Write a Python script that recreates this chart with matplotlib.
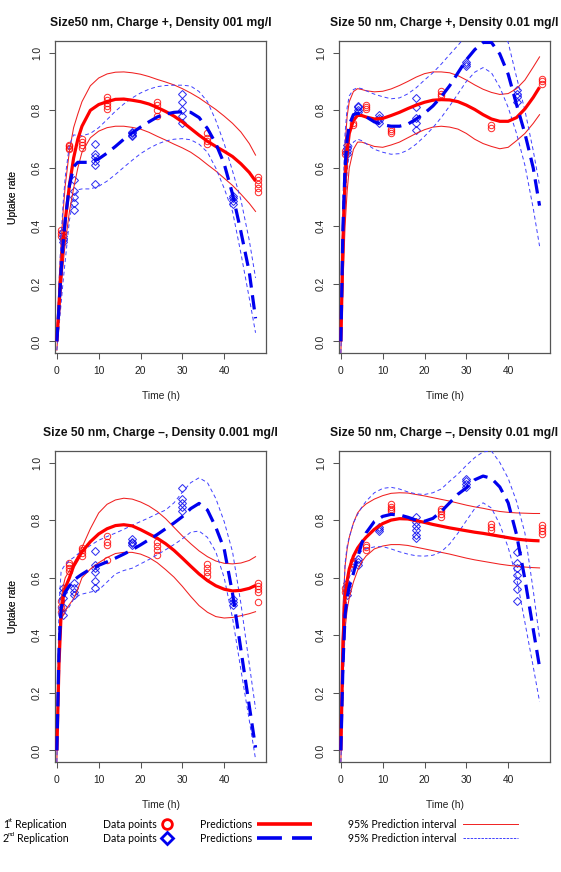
import matplotlib
matplotlib.use("Agg")
import matplotlib.pyplot as plt
from matplotlib.lines import Line2D

# ---------------- data ----------------
T_PRED = [0, 0.5, 1, 1.5, 2, 3, 4, 5, 6, 8, 10, 12, 14, 16, 18, 20, 22, 24, 26, 28,
          30, 32, 34, 36, 38, 40, 42, 44, 46, 47.5]

R1_T = [1, 3, 6, 12, 24, 36, 48]        # 1st replication times
R2_T = [1.5, 4, 9, 18, 30, 42]          # 2nd replication times

TITLES = ["Size50 nm, Charge +, Density 001 mg/l",
          "Size 50 nm, Charge +, Density 0.01 mg/l",
          "Size 50 nm, Charge \u2013, Density 0.001 mg/l",
          "Size 50 nm, Charge \u2013, Density 0.01 mg/l"]

# Panel 1
P1_RED_PRED = [0, 0.12, 0.24, 0.34, 0.42, 0.54, 0.635, 0.70, 0.745, 0.80, 0.82, 0.83, 0.838, 0.839, 0.835,
               0.83, 0.822, 0.81, 0.796, 0.78, 0.76, 0.737, 0.714, 0.693, 0.675, 0.658, 0.64, 0.615, 0.585, 0.555]
P1_RED_UP = [0.03, 0.2, 0.34, 0.45, 0.54, 0.66, 0.74, 0.787, 0.83, 0.885, 0.912, 0.926, 0.932, 0.933, 0.93,
             0.925, 0.917, 0.907, 0.898, 0.888, 0.875, 0.86, 0.843, 0.823, 0.803, 0.78, 0.755, 0.725, 0.685, 0.645]
P1_RED_LO = [-0.03, 0.08, 0.18, 0.27, 0.34, 0.45, 0.53, 0.6, 0.655, 0.705, 0.728, 0.74, 0.745, 0.745, 0.741,
             0.735, 0.724, 0.71, 0.697, 0.683, 0.67, 0.655, 0.635, 0.612, 0.59, 0.565, 0.54, 0.51, 0.478, 0.45]
P1_BLUE_PRED = [0, 0.12, 0.24, 0.34, 0.42, 0.54, 0.605, 0.62, 0.62, 0.62, 0.632, 0.652, 0.675, 0.70, 0.722,
                0.742, 0.76, 0.777, 0.787, 0.793, 0.795, 0.793, 0.775, 0.737, 0.685, 0.615, 0.51, 0.38, 0.24, 0.08]
P1_BLUE_UP = [0.03, 0.2, 0.36, 0.48, 0.57, 0.68, 0.715, 0.713, 0.712, 0.72, 0.74, 0.768, 0.797, 0.822, 0.843,
              0.86, 0.873, 0.882, 0.886, 0.887, 0.887, 0.884, 0.865, 0.83, 0.765, 0.685, 0.59, 0.49, 0.35, 0.22]
P1_BLUE_LO = [-0.03, 0.05, 0.13, 0.21, 0.28, 0.42, 0.5, 0.525, 0.528, 0.528, 0.537, 0.555, 0.578, 0.603, 0.627,
              0.65, 0.668, 0.683, 0.694, 0.70, 0.702, 0.698, 0.683, 0.655, 0.6, 0.53, 0.45, 0.305, 0.15, 0.03]
P1_R1_Y = [[0.365, 0.375, 0.385], [0.665, 0.67, 0.675, 0.68], [0.67, 0.68, 0.69, 0.70],
           [0.805, 0.815, 0.825, 0.835, 0.845], [0.78, 0.80, 0.82, 0.83], [0.684, 0.695, 0.705, 0.72],
           [0.517, 0.53, 0.545, 0.56, 0.568]]
P1_R2_Y = [[0.345, 0.355, 0.365, 0.38], [0.455, 0.48, 0.50, 0.52, 0.56], [0.546, 0.61, 0.625, 0.64, 0.65, 0.684],
           [0.712, 0.716, 0.72, 0.724], [0.755, 0.78, 0.80, 0.83, 0.855], [0.475, 0.485, 0.495, 0.505]]

# Panel 2
P2_RED_PRED = [0, 0.35, 0.55, 0.66, 0.72, 0.765, 0.783, 0.782, 0.777, 0.77, 0.772, 0.782, 0.793, 0.806, 0.818,
               0.828, 0.835, 0.837, 0.836, 0.83, 0.818, 0.803, 0.785, 0.77, 0.762, 0.762, 0.775, 0.805, 0.845, 0.88]
P2_RED_UP = [0.05, 0.45, 0.68, 0.78, 0.83, 0.865, 0.875, 0.872, 0.868, 0.864, 0.866, 0.874, 0.886, 0.9, 0.915,
             0.927, 0.933, 0.933, 0.93, 0.92, 0.905, 0.888, 0.873, 0.862, 0.855, 0.858, 0.875, 0.905, 0.95, 0.985]
P2_RED_LO = [-0.04, 0.2, 0.4, 0.52, 0.6, 0.665, 0.69, 0.69, 0.685, 0.675, 0.672, 0.68, 0.69, 0.705, 0.72,
             0.733, 0.742, 0.745, 0.742, 0.735, 0.72, 0.7, 0.685, 0.675, 0.667, 0.672, 0.695, 0.72, 0.755, 0.785]
P2_BLUE_PRED = [0, 0.4, 0.6, 0.7, 0.75, 0.785, 0.79, 0.785, 0.778, 0.76, 0.75, 0.745, 0.745, 0.752, 0.77,
                0.79, 0.815, 0.847, 0.885, 0.93, 0.975, 1.01, 1.035, 1.035, 0.995, 0.925, 0.82, 0.72, 0.60, 0.47]
P2_BLUE_UP = [0.05, 0.5, 0.72, 0.81, 0.85, 0.872, 0.878, 0.875, 0.868, 0.856, 0.847, 0.84, 0.843, 0.857, 0.878,
              0.905, 0.93, 0.96, 0.993, 1.025, 1.06, 1.09, 1.11, 1.11, 1.08, 1.035, 0.915, 0.8, 0.66, 0.54]
P2_BLUE_LO = [-0.04, 0.3, 0.48, 0.59, 0.65, 0.69, 0.7, 0.695, 0.685, 0.665, 0.655, 0.648, 0.65, 0.662, 0.683,
              0.71, 0.74, 0.775, 0.815, 0.857, 0.9, 0.932, 0.948, 0.93, 0.88, 0.81, 0.72, 0.61, 0.46, 0.33]
P2_R1_Y = [[0.65, 0.66], [0.75, 0.755], [0.805, 0.812, 0.82], [0.72, 0.728, 0.736], [0.85, 0.858, 0.866],
           [0.74, 0.75], [0.89, 0.90, 0.91]]
P2_R2_Y = [[0.65, 0.66, 0.67, 0.68], [0.795, 0.80, 0.81, 0.816], [0.755, 0.765, 0.775, 0.785],
           [0.733, 0.755, 0.775, 0.81, 0.842], [0.952, 0.96, 0.968], [0.83, 0.845, 0.855, 0.87]]

# Panel 3
P3_RED_PRED = [0, 0.3, 0.47, 0.53, 0.565, 0.6, 0.64, 0.665, 0.69, 0.725, 0.752, 0.77, 0.781, 0.784, 0.78,
               0.767, 0.752, 0.737, 0.718, 0.695, 0.668, 0.64, 0.613, 0.59, 0.572, 0.56, 0.554, 0.556, 0.563, 0.573]
P3_RED_UP = [0.04, 0.38, 0.52, 0.57, 0.6, 0.625, 0.65, 0.675, 0.705, 0.77, 0.825, 0.855, 0.87, 0.876, 0.873,
             0.863, 0.849, 0.83, 0.805, 0.775, 0.745, 0.718, 0.693, 0.673, 0.658, 0.65, 0.648, 0.651, 0.66, 0.673]
P3_RED_LO = [-0.04, 0.3, 0.45, 0.47, 0.485, 0.507, 0.527, 0.56, 0.6, 0.63, 0.652, 0.67, 0.684, 0.688, 0.688,
             0.682, 0.67, 0.652, 0.628, 0.602, 0.57, 0.535, 0.503, 0.48, 0.465, 0.46, 0.462, 0.468, 0.475, 0.482]
P3_BLUE_PRED = [0, 0.35, 0.49, 0.53, 0.55, 0.572, 0.59, 0.602, 0.612, 0.63, 0.643, 0.655, 0.668, 0.682, 0.697,
                0.714, 0.732, 0.75, 0.77, 0.79, 0.812, 0.84, 0.858, 0.835, 0.775, 0.7, 0.545, 0.35, 0.155, 0.01]
P3_BLUE_UP = [0.04, 0.5, 0.62, 0.635, 0.645, 0.66, 0.67, 0.682, 0.692, 0.712, 0.73, 0.743, 0.755, 0.768, 0.782,
              0.795, 0.808, 0.822, 0.835, 0.86, 0.897, 0.93, 0.947, 0.93, 0.875, 0.795, 0.69, 0.51, 0.30, 0.145]
P3_BLUE_LO = [-0.04, 0.35, 0.455, 0.47, 0.48, 0.5, 0.525, 0.537, 0.543, 0.55, 0.557, 0.585, 0.613, 0.625, 0.633,
              0.648, 0.663, 0.68, 0.697, 0.715, 0.735, 0.758, 0.762, 0.74, 0.69, 0.6, 0.46, 0.28, 0.105, -0.03]
P3_R1_Y = [[0.48, 0.50, 0.52], [0.625, 0.635, 0.645, 0.652], [0.675, 0.685, 0.695, 0.703],
           [0.663, 0.715, 0.725, 0.744], [0.68, 0.695, 0.71, 0.725], [0.606, 0.62, 0.635, 0.648],
           [0.515, 0.55, 0.56, 0.57, 0.58]]
P3_R2_Y = [[0.47, 0.50, 0.53, 0.55, 0.565], [0.54, 0.55, 0.565, 0.58], [0.565, 0.59, 0.62, 0.635, 0.645, 0.692],
           [0.715, 0.72, 0.725, 0.733], [0.83, 0.845, 0.86, 0.875, 0.91], [0.505, 0.515, 0.525]]

# Panel 4
P4_RED_PRED = [0, 0.38, 0.53, 0.59, 0.63, 0.675, 0.703, 0.723, 0.74, 0.768, 0.788, 0.80, 0.805, 0.804, 0.798,
               0.792, 0.785, 0.779, 0.773, 0.768, 0.763, 0.758, 0.754, 0.749, 0.744, 0.739, 0.734, 0.731, 0.729, 0.728]
P4_RED_UP = [0.04, 0.5, 0.64, 0.7, 0.74, 0.79, 0.825, 0.843, 0.856, 0.873, 0.885, 0.893, 0.895, 0.894, 0.889,
             0.884, 0.878, 0.872, 0.866, 0.859, 0.852, 0.846, 0.841, 0.835, 0.83, 0.827, 0.825, 0.824, 0.823, 0.823]
P4_RED_LO = [-0.04, 0.25, 0.42, 0.49, 0.53, 0.585, 0.625, 0.655, 0.675, 0.7, 0.71, 0.715, 0.715, 0.712, 0.706,
             0.7, 0.694, 0.688, 0.682, 0.675, 0.668, 0.662, 0.657, 0.652, 0.647, 0.643, 0.64, 0.637, 0.635, 0.634]
P4_BLUE_PRED = [0, 0.3, 0.47, 0.53, 0.57, 0.615, 0.67, 0.72, 0.755, 0.795, 0.813, 0.82, 0.818, 0.81, 0.80,
                0.796, 0.806, 0.83, 0.86, 0.89, 0.912, 0.94, 0.953, 0.945, 0.915, 0.86, 0.75, 0.595, 0.42, 0.29]
P4_BLUE_UP = [0.04, 0.45, 0.65, 0.71, 0.74, 0.79, 0.82, 0.845, 0.865, 0.895, 0.91, 0.914, 0.908, 0.898, 0.891,
              0.889, 0.895, 0.908, 0.935, 0.96, 0.99, 1.017, 1.037, 1.04, 1.0, 0.945, 0.865, 0.755, 0.555, 0.39]
P4_BLUE_LO = [-0.04, 0.2, 0.42, 0.56, 0.6, 0.645, 0.677, 0.693, 0.7, 0.707, 0.708, 0.7, 0.69, 0.682, 0.676,
              0.675, 0.678, 0.69, 0.717, 0.755, 0.798, 0.84, 0.86, 0.842, 0.785, 0.705, 0.6, 0.445, 0.29, 0.17]
P4_R1_Y = [[0.55, 0.565], [0.646, 0.652, 0.658], [0.696, 0.705, 0.713], [0.83, 0.838, 0.847, 0.856],
           [0.812, 0.82, 0.83, 0.84], [0.765, 0.775, 0.785], [0.752, 0.762, 0.772, 0.782]]
P4_R2_Y = [[0.54, 0.555, 0.57, 0.583], [0.645, 0.655, 0.665], [0.763, 0.77, 0.777],
           [0.738, 0.75, 0.765, 0.78, 0.795, 0.81], [0.915, 0.925, 0.935, 0.944],
           [0.52, 0.56, 0.59, 0.61, 0.635, 0.65, 0.69]]

X_TICKS = [0, 10, 20, 30, 40]
Y_TICKS = [0.0, 0.2, 0.4, 0.6, 0.8, 1.0]
Y_TICK_LABELS = ["0.0", "0.2", "0.4", "0.6", "0.8", "1.0"]

# ---------------- style ----------------
RED = "#ff0000"
RED_THIN = "#f02020"
BLUE = "#0000ee"
BLUE_THIN = "#4040ff"
AXC = "#555555"
TXT = "#222222"
FONT = "Liberation Sans"

W, H = 561, 872
fig = plt.figure(figsize=(W / 100, H / 100), dpi=100)
fig.patch.set_facecolor("white")


def fx(x):
    return x / W


def fy(y):
    return 1 - y / H


def add_ax(l, t, r, b):
    return fig.add_axes([l / W, 1 - b / H, (r - l) / W, (b - t) / H])


panels = [
    ((55, 41, 266, 353), P1_RED_PRED, P1_RED_UP, P1_RED_LO, P1_BLUE_PRED, P1_BLUE_UP, P1_BLUE_LO, P1_R1_Y, P1_R2_Y),
    ((339, 41, 550, 353), P2_RED_PRED, P2_RED_UP, P2_RED_LO, P2_BLUE_PRED, P2_BLUE_UP, P2_BLUE_LO, P2_R1_Y, P2_R2_Y),
    ((55, 451, 266, 762), P3_RED_PRED, P3_RED_UP, P3_RED_LO, P3_BLUE_PRED, P3_BLUE_UP, P3_BLUE_LO, P3_R1_Y, P3_R2_Y),
    ((339, 451, 550, 762), P4_RED_PRED, P4_RED_UP, P4_RED_LO, P4_BLUE_PRED, P4_BLUE_UP, P4_BLUE_LO, P4_R1_Y, P4_R2_Y),
]

for i, (box, rp, ru, rl, bp, bu, bl, r1y, r2y) in enumerate(panels):
    l, t, r, b = box
    ax = add_ax(l, t, r, b)
    ax.set_xlim(-0.45, 50.0)
    ax.set_ylim(-0.04, 1.04)

    # data points
    for tt, ys in zip(R1_T, r1y):
        ax.plot([tt] * len(ys), ys, linestyle="none", marker="o", ms=4.6, mfc="none",
                mec=RED, mew=0.75, alpha=0.8, zorder=2)
    for tt, ys in zip(R2_T, r2y):
        ax.plot([tt] * len(ys), ys, linestyle="none", marker="D", ms=4.0, mfc="none",
                mec=BLUE, mew=0.75, alpha=0.8, zorder=2)

    # prediction intervals
    ax.plot(T_PRED, ru, color=RED_THIN, lw=0.75, zorder=3)
    ax.plot(T_PRED, rl, color=RED_THIN, lw=0.75, zorder=3)
    ax.plot(T_PRED, bu, color=BLUE_THIN, lw=0.7, dashes=(4, 3), zorder=3)
    ax.plot(T_PRED, bl, color=BLUE_THIN, lw=0.7, dashes=(4, 3), zorder=3)

    # predictions
    ax.plot(T_PRED, rp, color=RED, lw=2.3, zorder=4, solid_capstyle="butt")
    ax.plot(T_PRED, bp, color=BLUE, lw=2.3, dashes=(4.5, 2.4), zorder=5)

    # axes styling
    for sp in ax.spines.values():
        sp.set_color(AXC)
        sp.set_linewidth(0.9)
    ax.set_xticks(X_TICKS)
    ax.set_xticklabels([str(v) for v in X_TICKS])
    ax.set_yticks(Y_TICKS)
    ax.set_yticklabels(Y_TICK_LABELS, rotation=90, va="center")
    ax.tick_params(axis="both", direction="out", length=4.3, width=0.75, color=AXC,
                   labelsize=7.4, labelcolor=TXT)
    ax.tick_params(axis="x", pad=5.2)
    ax.tick_params(axis="y", pad=5.0)
    for lab in ax.get_xticklabels() + ax.get_yticklabels():
        lab.set_fontfamily(FONT)

    cx = (l + r) / 2
    cy = (t + b) / 2
    fig.text(fx(cx), fy(t - 18), TITLES[i], ha="center", va="center",
             fontsize=8.7, fontweight="bold", family=FONT, color="#111111")
    fig.text(fx(cx), fy(b + 43), "Time (h)", ha="center", va="center",
             fontsize=7.4, family=FONT, color=TXT)
    fig.text(fx(12.5), fy(cy), "Uptake rate", ha="center", va="center", rotation=90,
             fontsize=7.4, family=FONT, color=TXT)

# ---------------- legend ----------------
LFONT = "Lato"
LS = 7.6
y1, y2 = 824, 838
fig.text(fx(3), fy(y1), "1", ha="left", va="center", fontsize=LS, family=LFONT)
fig.text(fx(7.5), fy(y1 - 3.5), "st", ha="left", va="center", fontsize=4.6, family=LFONT)
fig.text(fx(15), fy(y1), "Replication", ha="left", va="center", fontsize=LS, family=LFONT)
fig.text(fx(3), fy(y2), "2", ha="left", va="center", fontsize=LS, family=LFONT)
fig.text(fx(7.5), fy(y2 - 3.5), "nd", ha="left", va="center", fontsize=4.6, family=LFONT)
fig.text(fx(17), fy(y2), "Replication", ha="left", va="center", fontsize=LS, family=LFONT)
fig.text(fx(103), fy(y1), "Data points", ha="left", va="center", fontsize=LS, family=LFONT)
fig.text(fx(103), fy(y2), "Data points", ha="left", va="center", fontsize=LS, family=LFONT)
fig.text(fx(200), fy(y1), "Predictions", ha="left", va="center", fontsize=LS, family=LFONT)
fig.text(fx(200), fy(y2), "Predictions", ha="left", va="center", fontsize=LS, family=LFONT)
fig.text(fx(348), fy(y1), "95% Prediction interval", ha="left", va="center", fontsize=LS, family=LFONT)
fig.text(fx(348), fy(y2), "95% Prediction interval", ha="left", va="center", fontsize=LS, family=LFONT)

fig.add_artist(Line2D([fx(167)], [fy(y1)], transform=fig.transFigure, marker="o", ms=7,
                      mfc="none", mec=RED, mew=2.0, linestyle="none"))
fig.add_artist(Line2D([fx(167)], [fy(y2)], transform=fig.transFigure, marker="D", ms=6,
                      mfc="none", mec=BLUE, mew=2.0, linestyle="none"))
fig.add_artist(Line2D([fx(257), fx(312)], [fy(y1), fy(y1)], transform=fig.transFigure,
                      color=RED, lw=2.6, solid_capstyle="butt"))
fig.add_artist(Line2D([fx(257), fx(312)], [fy(y2), fy(y2)], transform=fig.transFigure,
                      color=BLUE, lw=2.6, dashes=(6.9, 2.8), dash_capstyle="butt"))
fig.add_artist(Line2D([fx(463), fx(518)], [fy(y1), fy(y1)], transform=fig.transFigure,
                      color=RED_THIN, lw=0.7))
fig.add_artist(Line2D([fx(463), fx(518)], [fy(y2), fy(y2)], transform=fig.transFigure,
                      color=BLUE_THIN, lw=0.7, dashes=(2.5, 1.2)))

fig.savefig("out.png", dpi=100, facecolor="white")
